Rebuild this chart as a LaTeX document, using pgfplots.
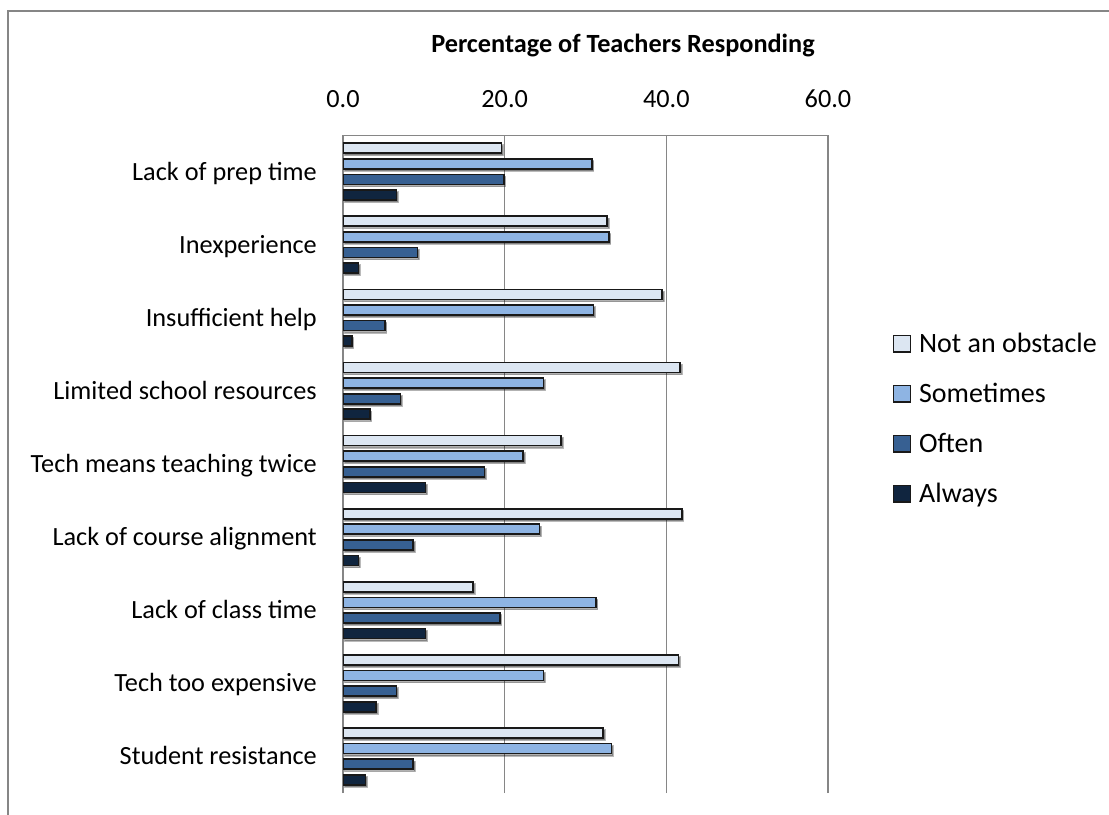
\documentclass[border=0pt]{standalone}
\usepackage{pgfplots}
\pgfplotsset{compat=1.18}
\usepackage{fontspec}
\setmainfont{Carlito}
\usetikzlibrary{shadows}
\definecolor{cNaO}{HTML}{DCE6F2}
\definecolor{cSom}{HTML}{8EB4E3}
\definecolor{cOft}{HTML}{376092}
\definecolor{cAlw}{HTML}{10253F}
\definecolor{gridgray}{HTML}{868686}
\newcommand{\chfont}{\fontsize{19.7}{23}\selectfont}
\newcommand{\lgfont}{\fontsize{21}{24}\selectfont}
\pgfplotsset{
  mybar/.style={xbar, bar width=0.137, draw=black!90, line width=1.25pt,
    drop shadow={shadow xshift=1.2pt, shadow yshift=-1.6pt, opacity=0.3, fill=black},
    legend image code/.code={\draw[##1,line width=1.1pt,/utils/exec={\expandafter\def\csname tikz@preactions\endcsname{}}] (0.5pt,0.3pt) rectangle (13pt,12.8pt);}},
}
\begin{document}
\begin{tikzpicture}
\useasboundingbox (0,0) rectangle (831.75pt,-610.5pt);
\draw[color=gridgray, line width=0.8pt] (6pt,-612pt) -- (6pt,-8.25pt) -- (833pt,-8.25pt);
\node[font=\bfseries\chfont, anchor=base, inner sep=0pt] at (467.25pt,-39pt) {Percentage of Teachers Responding};
\begin{axis}[
  at={(257.25pt,-101.25pt)}, anchor=north west,
  scale only axis, width=363.75pt, height=493.5pt,
  xmin=0, xmax=60, ymin=-0.5, ymax=8.5,
  axis line style={draw=none},
  xticklabel pos=right, xtick pos=right, ytick pos=left,
  xtick={0,20,40,60}, ytick={0,...,8},
  yticklabels={Student resistance, Tech too expensive, Lack of class time, Lack of course alignment, Tech means teaching twice, Limited school resources, Insufficient help, Inexperience, Lack of prep time},
  xticklabel={\pgfmathprintnumber[fixed,fixed zerofill,precision=1,assume math mode=true]{\tick}},
  major tick length=0pt,
  xmajorgrids, major grid style={draw=gridgray, line width=1.1pt},
  tick label style={font=\chfont},
  xticklabel shift=20.8pt,
  xticklabel style={anchor=base, inner sep=0pt},
  yticklabel style={anchor=east, inner sep=0pt, xshift=-19.5pt, text height=16.8pt, text depth=4pt},
  legend style={at={(1.134,0.7001)}, anchor=north west, draw=none, fill=none, inner sep=0pt, outer sep=0pt,
    row sep=18.5pt, column sep=6pt,
    nodes={inner sep=0pt, text height=15pt, text depth=4pt, font=\lgfont},
    cells={anchor=base west}},
]
\draw[gridgray, line width=1.1pt] (rel axis cs:0,0) -- (rel axis cs:0,1) -- (rel axis cs:1,1);
\addplot[mybar, fill=cNaO, bar shift=0.32] coordinates {
 (32.2,0) (41.5,1) (16.1,2) (41.9,3) (27.0,4) (41.7,5) (39.5,6) (32.7,7) (19.6,8)};
\addplot[mybar, fill=cSom, bar shift=0.107] coordinates {
 (33.2,0) (24.8,1) (31.3,2) (24.3,3) (22.3,4) (24.8,5) (31.0,6) (32.9,7) (30.8,8)};
\addplot[mybar, fill=cOft, bar shift=-0.107] coordinates {
 (8.7,0) (6.6,1) (19.4,2) (8.7,3) (17.5,4) (7.1,5) (5.2,6) (9.2,7) (19.9,8)};
\addplot[mybar, fill=cAlw, bar shift=-0.32] coordinates {
 (2.8,0) (4.1,1) (10.2,2) (1.9,3) (10.2,4) (3.3,5) (1.1,6) (1.9,7) (6.6,8)};
\legend{Not an obstacle, Sometimes, Often, Always}
\end{axis}
\end{tikzpicture}
\end{document}
